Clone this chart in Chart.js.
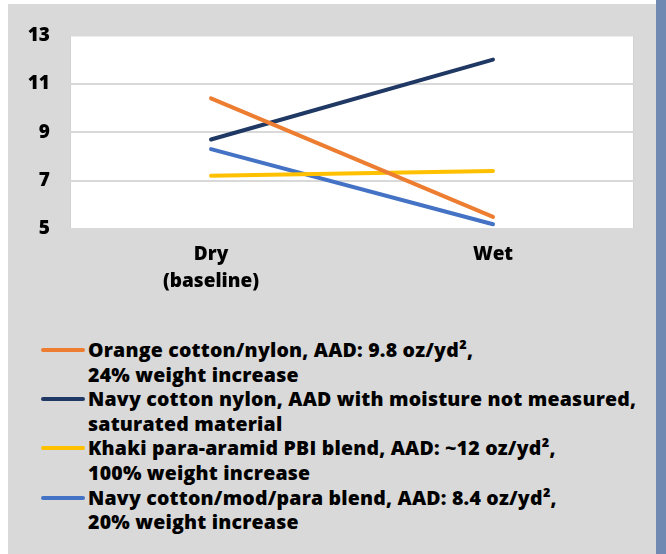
<!DOCTYPE html>
<html lang="en">
<head>
    <meta charset="UTF-8">
    <title>Dry vs wet</title>
    <script src="https://cdn.jsdelivr.net/npm/chart.js"></script>
    <style>
        body { margin: 0; background: #fff; font-family: 'Open Sans', sans-serif; }
        #frame { position: absolute; left: 8px; top: 4px; width: 648px; height: 550px; background: #d9d9d9; }
        #chartBox { position: absolute; left: 0; top: 0; width: 648px; height: 311px; }
        #strip { position: absolute; left: 656px; top: 0; width: 10px; height: 554px; background: #6f89b2; }
        #legend { position: absolute; left: 33px; top: 334px; }
        .item { display: flex; align-items: flex-start; }
        .swatch { width: 44px; height: 4px; margin-top: 10px; margin-right: 3px; border-radius: 2px; }
        .label { font-weight: 800; font-size: 19.5px; letter-spacing: 0.2px; line-height: 24.6px; color: #000; white-space: nowrap; }
    </style>
</head>
<body>
<div id="frame">
    <div id="chartBox"><canvas id="chart"></canvas></div>
    <div id="legend"></div>
</div>
<div id="strip"></div>

<script>
    // --- data ---
    const categories = [['Dry', '(baseline)'], 'Wet'];
    const orangeValues = [10.4, 5.5];
    const navyValues = [8.7, 12.0];
    const khakiValues = [7.2, 7.4];
    const blueValues = [8.3, 5.2];
    const yTicks = { min: 5, max: 13, step: 2 };

    const seriesNames = [
        ['Orange cotton/nylon, AAD: 9.8 oz/yd\u00b2,', '24% weight increase'],
        ['Navy cotton nylon, AAD with moisture not measured,', 'saturated material'],
        ['Khaki para-aramid PBI blend, AAD: ~12 oz/yd\u00b2,', '100% weight increase'],
        ['Navy cotton/mod/para blend, AAD: 8.4 oz/yd\u00b2,', '20% weight increase']
    ];
    const seriesColors = ['#ed7d31', '#203864', '#ffc000', '#4472c4'];
    const seriesValues = [orangeValues, navyValues, khakiValues, blueValues];

    const font = { family: "'Open Sans', sans-serif", size: 19, weight: 800, lineHeight: 1.42 };

    // white plot area with a faint border
    const plotBackground = {
        id: 'plotBackground',
        beforeDraw(chart) {
            const { ctx, chartArea: a } = chart;
            ctx.save();
            ctx.fillStyle = '#ffffff';
            ctx.fillRect(a.left, a.top, a.right - a.left, a.bottom - a.top);
            ctx.strokeStyle = '#d2d2d2';
            ctx.lineWidth = 1;
            ctx.strokeRect(a.left + 0.5, a.top + 0.5, a.right - a.left - 1, a.bottom - a.top - 1);
            ctx.restore();
        }
    };

    new Chart(document.getElementById('chart'), {
        type: 'line',
        data: {
            labels: categories,
            datasets: seriesValues.map((vals, i) => ({
                label: seriesNames[i].join(' '),
                data: vals,
                borderColor: seriesColors[i],
                backgroundColor: seriesColors[i],
                borderWidth: 4,
                borderCapStyle: 'round',
                pointRadius: 0,
                tension: 0,
                fill: false
            }))
        },
        options: {
            responsive: true,
            maintainAspectRatio: false,
            animation: false,
            layout: { padding: { top: 24, right: 22, bottom: 8, left: 0 } },
            plugins: { legend: { display: false }, tooltip: { enabled: false } },
            scales: {
                x: {
                    offset: true,
                    grid: { display: false, drawTicks: false },
                    border: { display: false },
                    ticks: { color: '#000', font: font, padding: 12 }
                },
                y: {
                    min: yTicks.min,
                    max: yTicks.max,
                    ticks: { stepSize: yTicks.step, color: '#000', font: { ...font, lineHeight: 1.2 }, padding: 20 },
                    grid: { color: '#d9d9d9', lineWidth: 2, drawTicks: false },
                    border: { display: false },
                    afterFit(scale) { scale.width = 62; }
                }
            }
        },
        plugins: [plotBackground]
    });

    // legend below the chart
    const legend = document.getElementById('legend');
    seriesNames.forEach((lines, i) => {
        const item = document.createElement('div');
        item.className = 'item';
        const sw = document.createElement('div');
        sw.className = 'swatch';
        sw.style.background = seriesColors[i];
        const lab = document.createElement('div');
        lab.className = 'label';
        lab.innerHTML = lines.join('<br>');
        item.appendChild(sw);
        item.appendChild(lab);
        legend.appendChild(item);
    });
</script>
</body>
</html>
